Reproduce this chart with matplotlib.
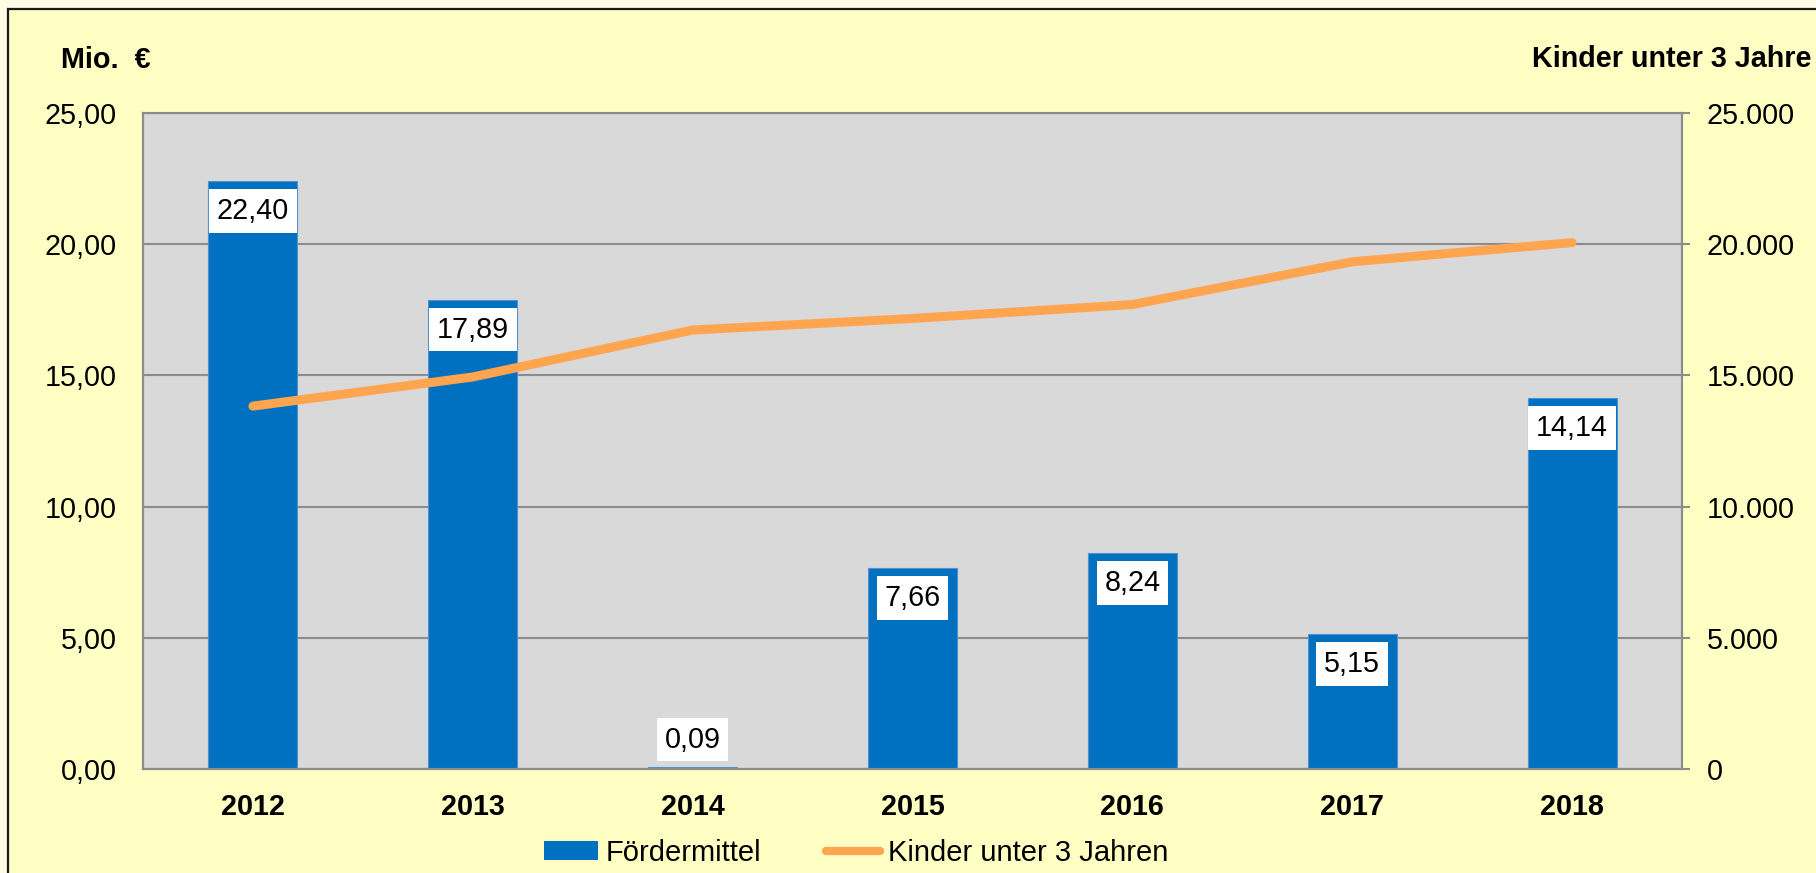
import matplotlib
matplotlib.use("Agg")
import matplotlib.pyplot as plt
from matplotlib.patches import Rectangle, Patch
from matplotlib.lines import Line2D
from matplotlib.ticker import FixedLocator, FuncFormatter

years = ["2012", "2013", "2014", "2015", "2016", "2017", "2018"]
foerdermittel = [22.40, 17.89, 0.09, 7.66, 8.24, 5.15, 14.14]
kinder = [13830, 14940, 16730, 17170, 17700, 19330, 20060]
left_ticks = [0, 5, 10, 15, 20, 25]
right_ticks = [0, 5000, 10000, 15000, 20000, 25000]

W, H, DPI = 1816, 873, 100
plt.rcParams['font.family'] = ['Liberation Sans', 'DejaVu Sans']
FS = 20.7

BLUE = '#0070C0'
ORANGE = '#FFA54F'
GRID = '#8C8C8C'

fig = plt.figure(figsize=(W / DPI, H / DPI), dpi=DPI, facecolor='#FFFCE6')
fig.patches.append(Rectangle((8 / W, -0.1), 1.2, (H - 9) / H + 0.1,
                             transform=fig.transFigure, facecolor='#FFFFC4',
                             edgecolor='#1a1a1a', linewidth=1.6, zorder=-10))

ax = fig.add_axes([143 / W, 1 - 769 / H, (1682 - 143) / W, (769 - 113) / H])
ax.set_facecolor('#D9D9D9')
x = list(range(len(years)))
ax.bar(x, foerdermittel, width=0.405, color=BLUE, edgecolor='#4F93D2',
       linewidth=0.8, zorder=3)
ax.set_xlim(-0.5, len(years) - 0.5)
ax.set_ylim(0, 25)
ax.yaxis.set_major_locator(FixedLocator(left_ticks))
ax.yaxis.set_major_formatter(FuncFormatter(lambda v, p: f"{v:.2f}".replace('.', ',')))
ax.grid(axis='y', color=GRID, linewidth=1.5, zorder=0)
ax.set_axisbelow(True)
ax.set_xticks(x)
ax.set_xticklabels(years, fontsize=FS, fontweight='bold')
ax.tick_params(axis='x', length=0, pad=17)
ax.tick_params(axis='y', length=0, pad=19, labelsize=FS)
for s in ax.spines.values():
    s.set_color(GRID)
    s.set_linewidth(1.5)

for i, v in enumerate(foerdermittel):
    lbl = f"{v:.2f}".replace('.', ',')
    if v < 2:
        off, va = 9.4, 'bottom'
    else:
        off, va = -11.5, 'top'
    ax.annotate(lbl, (i, v), xytext=(0, off), textcoords='offset points',
                ha='center', va=va, fontsize=FS, color='black', zorder=5,
                bbox=dict(boxstyle='square,pad=0.27', facecolor='white',
                          edgecolor='none'))

ax2 = ax.twinx()
ax2.set_ylim(0, 25000)
ax2.yaxis.set_major_locator(FixedLocator(right_ticks))
ax2.yaxis.set_major_formatter(FuncFormatter(lambda v, p: f"{int(v):,}".replace(',', '.')))
ax2.plot(x, kinder, color=ORANGE, linewidth=6.5, solid_capstyle='round',
         solid_joinstyle='round', zorder=4)
ax2.tick_params(axis='y', length=5.8, width=1.5, color=GRID, pad=12, labelsize=FS)
for s in ax2.spines.values():
    s.set_color(GRID)
    s.set_linewidth(1.5)

fig.text(61 / W, 1 - 60 / H, "Mio.  €", fontsize=FS, fontweight='bold',
         ha='left', va='center')
fig.text(1532 / W, 1 - 59 / H, "Kinder unter 3 Jahre", fontsize=FS,
         fontweight='bold', ha='left', va='center')

handles = [Patch(facecolor=BLUE, edgecolor='none'),
           Line2D([0], [0], color=ORANGE, linewidth=6, solid_capstyle='round')]
fig.legend(handles, ["Fördermittel", "Kinder unter 3 Jahren"], ncol=2,
           loc='center', bbox_to_anchor=(856 / W, 1 - 853 / H), frameon=False,
           prop={'size': 21}, handlelength=1.85,
           handleheight=0.6, handletextpad=0.28, columnspacing=2.2,
           borderpad=0, borderaxespad=0)

fig.savefig("out.png", dpi=DPI, facecolor=fig.get_facecolor())
